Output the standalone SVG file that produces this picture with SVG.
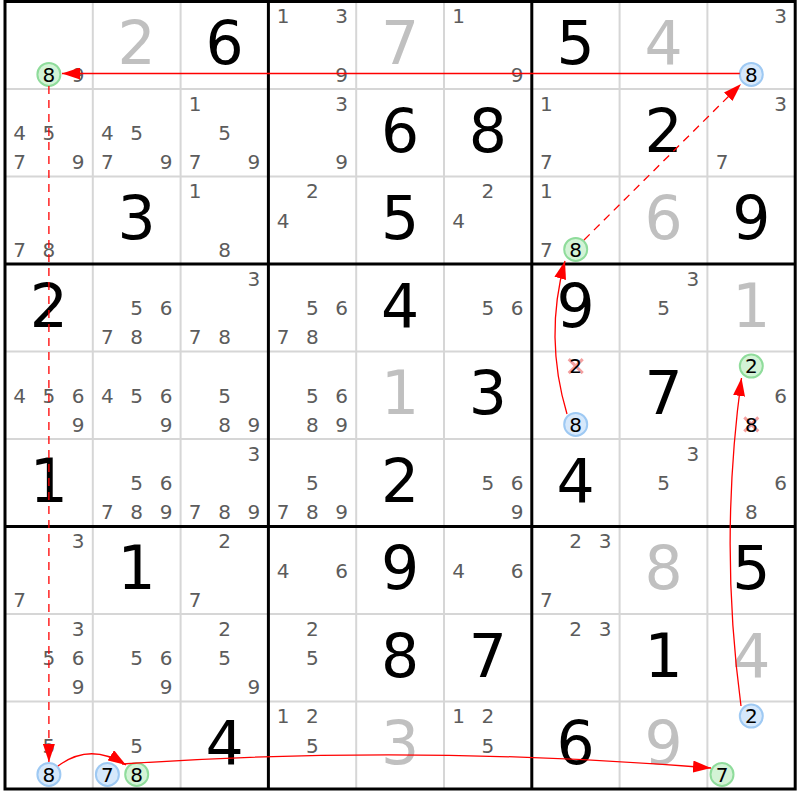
<svg xmlns="http://www.w3.org/2000/svg" width="800" height="800" viewBox="0 0 800 800">
<style>
text{font-family:"DejaVu Sans","Liberation Sans",sans-serif;text-anchor:middle}
.g{font-size:60px;fill:#000}
.p{font-size:60px;fill:#c0c0c0}
.c{font-size:20px;fill:#5c5c5c}
.k{font-size:20px;fill:#000}
.thin{stroke:#d6d6d6;stroke-width:2}
.thick{stroke:#000;stroke-width:3}
.on{fill:#d3f3d6;stroke:#8fdc9b;stroke-width:2}
.off{fill:#d6e8fb;stroke:#9ec9f3;stroke-width:2}
.x{stroke:#f4a0a0;stroke-width:3}
.ln{fill:none;stroke:#ff0000;stroke-width:1.3}
.dash{stroke-dasharray:8 6}
</style>
<defs>
<marker id="ah" markerUnits="userSpaceOnUse" markerWidth="18" markerHeight="12" refX="18" refY="6" orient="auto">
<path d="M0,0 L18,6 L0,12 z" fill="#ff0000"/>
</marker>
</defs>
<rect width="800" height="800" fill="#fff"/>
<g id="grid">
<g class="thin">
<line x1="92.8" y1="1.5" x2="92.8" y2="789"/><line x1="180.6" y1="1.5" x2="180.6" y2="789"/>
<line x1="356.2" y1="1.5" x2="356.2" y2="789"/><line x1="444" y1="1.5" x2="444" y2="789"/>
<line x1="619.6" y1="1.5" x2="619.6" y2="789"/><line x1="707.4" y1="1.5" x2="707.4" y2="789"/>
<line x1="5" y1="89" x2="795.2" y2="89"/><line x1="5" y1="176.5" x2="795.2" y2="176.5"/>
<line x1="5" y1="351.5" x2="795.2" y2="351.5"/><line x1="5" y1="439" x2="795.2" y2="439"/>
<line x1="5" y1="614" x2="795.2" y2="614"/><line x1="5" y1="701.5" x2="795.2" y2="701.5"/>
</g>
<g class="thick">
<line x1="268.4" y1="1.5" x2="268.4" y2="789"/><line x1="531.8" y1="1.5" x2="531.8" y2="789"/>
<line x1="5" y1="264" x2="795.2" y2="264"/><line x1="5" y1="526.5" x2="795.2" y2="526.5"/>
<rect x="5" y="1.5" width="790.2" height="787.5" fill="none"/>
</g>
</g>

<g id="r1c1"><text class="c" x="78.2" y="81.6">9</text><circle class="on" cx="48.9" cy="74.4" r="11.5"/><text class="k" x="48.9" y="81.6">8</text></g>
<g id="r1c2"><text class="p" x="136.7" y="64">2</text></g>
<g id="r1c3"><text class="g" x="224.5" y="64">6</text></g>
<g id="r1c4"><text class="c" x="283" y="23.3">1</text><text class="c" x="341.6" y="23.3">3</text><text class="c" x="341.6" y="81.6">9</text></g>
<g id="r1c5"><text class="p" x="400.1" y="64">7</text></g>
<g id="r1c6"><text class="c" x="458.6" y="23.3">1</text><text class="c" x="517.2" y="81.6">9</text></g>
<g id="r1c7"><text class="g" x="575.7" y="64">5</text></g>
<g id="r1c8"><text class="p" x="663.5" y="64">4</text></g>
<g id="r1c9"><text class="c" x="780.6" y="23.3">3</text><circle class="off" cx="751.3" cy="74.4" r="11.5"/><text class="k" x="751.3" y="81.6">8</text></g>

<g id="r2c1"><text class="c" x="19.6" y="140">4</text><text class="c" x="48.9" y="140">5</text><text class="c" x="19.6" y="169.1">7</text><text class="c" x="78.2" y="169.1">9</text></g>
<g id="r2c2"><text class="c" x="107.4" y="140">4</text><text class="c" x="136.7" y="140">5</text><text class="c" x="107.4" y="169.1">7</text><text class="c" x="166" y="169.1">9</text></g>
<g id="r2c3"><text class="c" x="195.2" y="110.8">1</text><text class="c" x="224.5" y="140">5</text><text class="c" x="195.2" y="169.1">7</text><text class="c" x="253.8" y="169.1">9</text></g>
<g id="r2c4"><text class="c" x="341.6" y="110.8">3</text><text class="c" x="341.6" y="169.1">9</text></g>
<g id="r2c5"><text class="g" x="400.1" y="151.5">6</text></g>
<g id="r2c6"><text class="g" x="487.9" y="151.5">8</text></g>
<g id="r2c7"><text class="c" x="546.4" y="110.8">1</text><text class="c" x="546.4" y="169.1">7</text></g>
<g id="r2c8"><text class="g" x="663.5" y="151.5">2</text></g>
<g id="r2c9"><text class="c" x="780.6" y="110.8">3</text><text class="c" x="722" y="169.1">7</text></g>

<g id="r3c1"><text class="c" x="19.6" y="256.6">7</text><text class="c" x="48.9" y="256.6">8</text></g>
<g id="r3c2"><text class="g" x="136.7" y="239">3</text></g>
<g id="r3c3"><text class="c" x="195.2" y="198.3">1</text><text class="c" x="224.5" y="256.6">8</text></g>
<g id="r3c4"><text class="c" x="312.3" y="198.3">2</text><text class="c" x="283" y="227.5">4</text></g>
<g id="r3c5"><text class="g" x="400.1" y="239">5</text></g>
<g id="r3c6"><text class="c" x="487.9" y="198.3">2</text><text class="c" x="458.6" y="227.5">4</text></g>
<g id="r3c7"><text class="c" x="546.4" y="198.3">1</text><text class="c" x="546.4" y="256.6">7</text><circle class="on" cx="575.7" cy="249.4" r="11.5"/><text class="k" x="575.7" y="256.6">8</text></g>
<g id="r3c8"><text class="p" x="663.5" y="239">6</text></g>
<g id="r3c9"><text class="g" x="751.3" y="239">9</text></g>

<g id="r4c1"><text class="g" x="48.9" y="326.5">2</text></g>
<g id="r4c2"><text class="c" x="136.7" y="315">5</text><text class="c" x="166" y="315">6</text><text class="c" x="107.4" y="344.1">7</text><text class="c" x="136.7" y="344.1">8</text></g>
<g id="r4c3"><text class="c" x="253.8" y="285.8">3</text><text class="c" x="195.2" y="344.1">7</text><text class="c" x="224.5" y="344.1">8</text></g>
<g id="r4c4"><text class="c" x="312.3" y="315">5</text><text class="c" x="341.6" y="315">6</text><text class="c" x="283" y="344.1">7</text><text class="c" x="312.3" y="344.1">8</text></g>
<g id="r4c5"><text class="g" x="400.1" y="326.5">4</text></g>
<g id="r4c6"><text class="c" x="487.9" y="315">5</text><text class="c" x="517.2" y="315">6</text></g>
<g id="r4c7"><text class="g" x="575.7" y="326.5">9</text></g>
<g id="r4c8"><text class="c" x="692.8" y="285.8">3</text><text class="c" x="663.5" y="315">5</text></g>
<g id="r4c9"><text class="p" x="751.3" y="326.5">1</text></g>

<g id="r5c1"><text class="c" x="19.6" y="402.5">4</text><text class="c" x="48.9" y="402.5">5</text><text class="c" x="78.2" y="402.5">6</text><text class="c" x="78.2" y="431.6">9</text></g>
<g id="r5c2"><text class="c" x="107.4" y="402.5">4</text><text class="c" x="136.7" y="402.5">5</text><text class="c" x="166" y="402.5">6</text><text class="c" x="166" y="431.6">9</text></g>
<g id="r5c3"><text class="c" x="224.5" y="402.5">5</text><text class="c" x="224.5" y="431.6">8</text><text class="c" x="253.8" y="431.6">9</text></g>
<g id="r5c4"><text class="c" x="312.3" y="402.5">5</text><text class="c" x="341.6" y="402.5">6</text><text class="c" x="312.3" y="431.6">8</text><text class="c" x="341.6" y="431.6">9</text></g>
<g id="r5c5"><text class="p" x="400.1" y="414">1</text></g>
<g id="r5c6"><text class="g" x="487.9" y="414">3</text></g>
<g id="r5c7"><path class="x" d="M568.7,359.1 L582.7,373.1 M582.7,359.1 L568.7,373.1"/><text class="k" x="575.7" y="373.3">2</text><circle class="off" cx="575.7" cy="424.4" r="11.5"/><text class="k" x="575.7" y="431.6">8</text></g>
<g id="r5c8"><text class="g" x="663.5" y="414">7</text></g>
<g id="r5c9"><circle class="on" cx="751.3" cy="366.1" r="11.5"/><text class="k" x="751.3" y="373.3">2</text><text class="c" x="780.6" y="402.5">6</text><path class="x" d="M744.3,417.4 L758.3,431.4 M758.3,417.4 L744.3,431.4"/><text class="k" x="751.3" y="431.6">8</text></g>

<g id="r6c1"><text class="g" x="48.9" y="501.5">1</text></g>
<g id="r6c2"><text class="c" x="136.7" y="490">5</text><text class="c" x="166" y="490">6</text><text class="c" x="107.4" y="519.1">7</text><text class="c" x="136.7" y="519.1">8</text><text class="c" x="166" y="519.1">9</text></g>
<g id="r6c3"><text class="c" x="253.8" y="460.8">3</text><text class="c" x="195.2" y="519.1">7</text><text class="c" x="224.5" y="519.1">8</text><text class="c" x="253.8" y="519.1">9</text></g>
<g id="r6c4"><text class="c" x="312.3" y="490">5</text><text class="c" x="283" y="519.1">7</text><text class="c" x="312.3" y="519.1">8</text><text class="c" x="341.6" y="519.1">9</text></g>
<g id="r6c5"><text class="g" x="400.1" y="501.5">2</text></g>
<g id="r6c6"><text class="c" x="487.9" y="490">5</text><text class="c" x="517.2" y="490">6</text><text class="c" x="517.2" y="519.1">9</text></g>
<g id="r6c7"><text class="g" x="575.7" y="501.5">4</text></g>
<g id="r6c8"><text class="c" x="692.8" y="460.8">3</text><text class="c" x="663.5" y="490">5</text></g>
<g id="r6c9"><text class="c" x="780.6" y="490">6</text><text class="c" x="751.3" y="519.1">8</text></g>

<g id="r7c1"><text class="c" x="78.2" y="548.3">3</text><text class="c" x="19.6" y="606.6">7</text></g>
<g id="r7c2"><text class="g" x="136.7" y="589">1</text></g>
<g id="r7c3"><text class="c" x="224.5" y="548.3">2</text><text class="c" x="195.2" y="606.6">7</text></g>
<g id="r7c4"><text class="c" x="283" y="577.5">4</text><text class="c" x="341.6" y="577.5">6</text></g>
<g id="r7c5"><text class="g" x="400.1" y="589">9</text></g>
<g id="r7c6"><text class="c" x="458.6" y="577.5">4</text><text class="c" x="517.2" y="577.5">6</text></g>
<g id="r7c7"><text class="c" x="575.7" y="548.3">2</text><text class="c" x="605" y="548.3">3</text><text class="c" x="546.4" y="606.6">7</text></g>
<g id="r7c8"><text class="p" x="663.5" y="589">8</text></g>
<g id="r7c9"><text class="g" x="751.3" y="589">5</text></g>

<g id="r8c1"><text class="c" x="78.2" y="635.8">3</text><text class="c" x="48.9" y="665">5</text><text class="c" x="78.2" y="665">6</text><text class="c" x="78.2" y="694.1">9</text></g>
<g id="r8c2"><text class="c" x="136.7" y="665">5</text><text class="c" x="166" y="665">6</text><text class="c" x="166" y="694.1">9</text></g>
<g id="r8c3"><text class="c" x="224.5" y="635.8">2</text><text class="c" x="224.5" y="665">5</text><text class="c" x="253.8" y="694.1">9</text></g>
<g id="r8c4"><text class="c" x="312.3" y="635.8">2</text><text class="c" x="312.3" y="665">5</text></g>
<g id="r8c5"><text class="g" x="400.1" y="676.5">8</text></g>
<g id="r8c6"><text class="g" x="487.9" y="676.5">7</text></g>
<g id="r8c7"><text class="c" x="575.7" y="635.8">2</text><text class="c" x="605" y="635.8">3</text></g>
<g id="r8c8"><text class="g" x="663.5" y="676.5">1</text></g>
<g id="r8c9"><text class="p" x="751.3" y="676.5">4</text></g>

<g id="r9c1"><text class="c" x="48.9" y="752.5">5</text><circle class="off" cx="48.9" cy="774.4" r="11.5"/><text class="k" x="48.9" y="781.6">8</text></g>
<g id="r9c2"><text class="c" x="136.7" y="752.5">5</text><circle class="off" cx="107.4" cy="774.4" r="11.5"/><text class="k" x="107.4" y="781.6">7</text><circle class="on" cx="136.7" cy="774.4" r="11.5"/><text class="k" x="136.7" y="781.6">8</text></g>
<g id="r9c3"><text class="g" x="224.5" y="764">4</text></g>
<g id="r9c4"><text class="c" x="283" y="723.3">1</text><text class="c" x="312.3" y="723.3">2</text><text class="c" x="312.3" y="752.5">5</text></g>
<g id="r9c5"><text class="p" x="400.1" y="764">3</text></g>
<g id="r9c6"><text class="c" x="458.6" y="723.3">1</text><text class="c" x="487.9" y="723.3">2</text><text class="c" x="487.9" y="752.5">5</text></g>
<g id="r9c7"><text class="g" x="575.7" y="764">6</text></g>
<g id="r9c8"><text class="p" x="663.5" y="764">9</text></g>
<g id="r9c9"><circle class="off" cx="751.3" cy="716.1" r="11.5"/><text class="k" x="751.3" y="723.3">2</text><circle class="on" cx="722" cy="774.4" r="11.5"/><text class="k" x="722" y="781.6">7</text></g>

<g id="connectors">
<path class="ln" d="M739.8,73.5 L62,73.5" marker-end="url(#ah)"/>
<path class="ln dash" d="M48.9,86 L48.9,762" marker-end="url(#ah)"/>
<path class="ln" d="M58,766 Q90,742 126,765" marker-end="url(#ah)"/>
<path class="ln" d="M122,764 Q414,744 711,768" marker-end="url(#ah)"/>
<path class="ln" d="M741,706 Q719,542 741.5,378" marker-end="url(#ah)"/>
<path class="ln" d="M567,414 Q544,337 565,261" marker-end="url(#ah)"/>
<path class="ln dash" d="M584,240 L741,84" marker-end="url(#ah)"/>
</g>
</svg>
